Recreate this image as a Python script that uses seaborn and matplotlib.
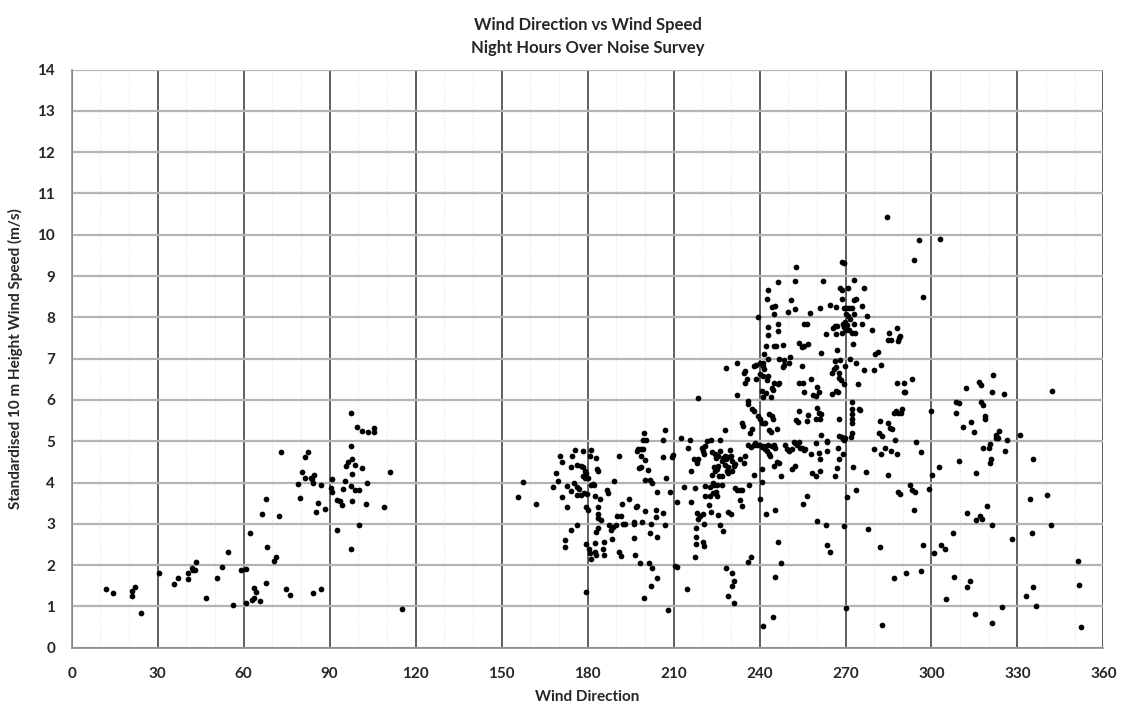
import pandas as pd
import matplotlib
matplotlib.use("Agg")
import matplotlib.pyplot as plt
import seaborn as sns
from matplotlib.ticker import MultipleLocator

# (wind direction deg, wind speed m/s), per sector
sector_000_095 = [
    (12.0, 1.41), (14.5, 1.32), (20.9, 1.37), (21.0, 1.26), (22.1, 1.46), (24.3, 0.84),
    (30.5, 1.80), (35.6, 1.55), (36.9, 1.69), (40.5, 1.82), (40.6, 1.66), (42.0, 1.92),
    (42.4, 1.87), (42.9, 1.87), (43.5, 2.07), (46.8, 1.21), (50.6, 1.69), (52.6, 1.95),
    (54.5, 2.32), (56.1, 1.03), (59.1, 1.87), (60.8, 1.91), (60.7, 1.09), (62.3, 2.77),
    (62.8, 1.15), (63.6, 1.21), (63.7, 1.44), (64.2, 1.35), (65.8, 1.14), (66.5, 3.23),
    (67.8, 1.57), (67.9, 3.59), (68.2, 2.43), (70.7, 2.09), (71.1, 2.20), (72.3, 3.19),
    (73.0, 4.73), (74.7, 1.42), (76.2, 1.27), (78.9, 3.96), (79.5, 3.63), (80.5, 4.25),
    (81.5, 4.61), (82.3, 4.73), (81.5, 4.11), (83.4, 4.11), (84.0, 4.08), (84.4, 4.18),
    (84.3, 4.00), (84.3, 1.32), (87.0, 1.42), (87.0, 3.93), (85.2, 3.29), (86.0, 3.50),
    (88.3, 3.37), (90.8, 4.09), (90.5, 3.86), (90.8, 3.78), (92.5, 2.85), (92.5, 3.57),
]

sector_095_120 = [
    (97.4, 5.68), (99.7, 5.34), (101.3, 5.25), (103.3, 5.22), (105.5, 5.31), (105.5, 5.22),
    (97.4, 4.89), (97.8, 4.57), (96.3, 4.50), (95.6, 4.40), (98.7, 4.42), (101.3, 4.36),
    (97.8, 4.21), (111.0, 4.26), (95.4, 4.03), (97.4, 3.91), (94.5, 3.85), (98.7, 3.81),
    (100.4, 3.83), (103.0, 3.98), (93.7, 3.56), (94.3, 3.46), (97.8, 3.56), (102.6, 3.48),
    (109.0, 3.40), (100.4, 2.97), (97.4, 2.40), (115.1, 0.94),
]

sector_150_218 = [
    (155.8, 3.66), (157.5, 4.02), (162.0, 3.47), (168.1, 3.89), (168.9, 4.22), (169.8, 4.04),
    (170.2, 4.65), (170.9, 4.49), (170.9, 3.66), (172.2, 2.62), (172.2, 2.45), (172.8, 3.41),
    (172.8, 3.92), (174.2, 2.84), (174.2, 4.37), (174.2, 3.79), (174.6, 4.65), (175.5, 4.79),
    (175.3, 3.98), (176.2, 3.88), (176.4, 4.42), (176.4, 3.70), (176.4, 2.96), (177.0, 3.85),
    (177.6, 4.40), (177.6, 3.70), (178.4, 4.77), (178.5, 4.37), (178.5, 4.15), (178.8, 3.75),
    (179.1, 4.29), (179.2, 4.12), (179.6, 4.22), (179.8, 3.72), (179.3, 3.41), (179.6, 2.50),
    (179.5, 1.34), (180.2, 4.11), (180.2, 3.34), (180.4, 2.39), (180.8, 2.29), (181.1, 3.94),
    (181.3, 2.16), (181.3, 4.79), (181.0, 4.64), (182.0, 3.96), (182.3, 3.95), (182.7, 2.31),
    (182.6, 3.68), (182.7, 2.54), (183.0, 2.25), (183.1, 4.60), (183.3, 4.33), (183.7, 4.29),
    (183.7, 3.41), (183.7, 3.25), (183.8, 3.15), (184.5, 3.60), (184.6, 3.09), (182.9, 2.81),
    (183.7, 2.90), (185.3, 2.39), (185.6, 2.55), (185.6, 2.24), (186.8, 3.83), (187.1, 3.74),
    (187.5, 2.96), (188.3, 2.84), (188.7, 2.92), (188.5, 2.63), (189.1, 4.03), (190.0, 2.97),
    (190.3, 3.18), (190.9, 4.65), (190.9, 2.32), (191.6, 2.23), (191.8, 3.20), (191.9, 3.49),
    (192.2, 3.00), (192.9, 3.00), (194.4, 3.60), (196.1, 3.05), (196.3, 3.00), (196.3, 2.65),
    (196.4, 2.25), (196.8, 3.40), (197.3, 3.43), (197.1, 4.76), (197.6, 4.81), (198.6, 4.81),
    (199.2, 4.81), (198.1, 4.36), (198.6, 4.37), (198.8, 4.64), (200.1, 4.54), (199.8, 5.19),
    (199.4, 5.03), (200.5, 5.03), (200.2, 4.06), (200.2, 3.30), (199.1, 3.05), (198.4, 2.05),
    (199.7, 1.21), (201.0, 4.31), (201.3, 2.05), (201.8, 4.06), (202.3, 3.99), (201.8, 2.79),
    (202.0, 3.00), (202.6, 1.94), (202.0, 1.50), (203.7, 3.33), (203.9, 3.17), (204.1, 2.68),
    (204.1, 1.70), (204.3, 3.77), (206.2, 4.62), (206.4, 5.03), (206.4, 3.26), (207.0, 5.27),
    (207.2, 4.11), (207.1, 2.97), (208.2, 0.91), (208.8, 3.78), (209.5, 4.62), (209.7, 4.67),
    (210.4, 1.99), (211.1, 1.95), (211.3, 3.54), (212.7, 5.08), (213.5, 3.88), (214.7, 1.43),
    (214.9, 4.83), (215.9, 5.03), (216.2, 4.29), (216.2, 3.54), (217.5, 3.87), (217.3, 4.56),
    (218.0, 3.26), (217.7, 2.90), (217.8, 2.68), (217.7, 2.50), (217.5, 2.19),
]

sector_218_288_low = [
    # 6 to 7 m/s
    (228.2, 6.77), (235.0, 6.70), (234.6, 6.65), (238.0, 6.83), (238.8, 6.84), (241.2, 6.83),
    (241.4, 6.74), (235.6, 6.50), (235.0, 6.40), (238.7, 6.50), (240.2, 6.62), (241.1, 6.58),
    (242.9, 6.58), (242.6, 6.49), (244.9, 6.40), (244.3, 6.30), (244.8, 6.24), (246.9, 6.42),
    (246.4, 6.38), (240.8, 6.22), (241.1, 6.08), (242.2, 6.16), (244.1, 6.06), (248.4, 6.84),
    (248.1, 6.79), (254.8, 6.81), (253.7, 6.40), (255.2, 6.40), (255.4, 6.20), (258.1, 6.50),
    (260.2, 6.32), (260.7, 6.20), (258.6, 6.11), (259.7, 6.10), (265.3, 6.15), (266.7, 6.22),
    (267.4, 6.20), (265.3, 6.66), (265.9, 6.76), (266.7, 6.79), (267.7, 6.65), (267.7, 6.52),
    (268.5, 6.48), (269.4, 6.38), (269.7, 6.83), (274.4, 6.39), (276.5, 6.73), (279.9, 6.73),
    (282.5, 6.84), (287.9, 6.42), (232.1, 6.13), (218.4, 6.05),
    # 5 to 6 m/s
    (235.8, 5.98), (236.1, 5.91), (237.3, 5.77), (237.9, 5.73), (239.6, 5.60), (240.2, 5.55),
    (240.8, 5.45), (241.4, 5.43), (242.0, 5.43), (233.8, 5.45), (234.4, 5.38), (243.4, 5.65),
    (244.3, 5.60), (244.7, 5.55), (246.1, 5.29), (243.4, 5.27), (244.1, 5.22), (237.3, 5.29),
    (236.7, 5.21), (228.0, 5.26), (253.7, 5.72), (252.7, 5.51), (253.4, 5.47), (256.9, 5.63),
    (256.6, 5.49), (260.1, 5.80), (260.7, 5.69), (261.4, 5.65), (259.8, 5.53), (261.1, 5.55),
    (267.7, 5.55), (272.1, 5.95), (272.3, 5.77), (274.7, 5.79), (275.2, 5.76), (272.1, 5.65),
    (272.3, 5.53), (272.3, 5.43), (272.1, 5.19), (271.9, 5.11), (267.7, 5.13), (268.6, 5.11),
    (269.1, 5.06), (269.3, 5.02), (269.8, 5.08), (261.4, 5.14), (263.6, 5.00), (282.0, 5.49),
    (281.7, 5.19), (282.8, 5.13), (284.9, 5.45), (285.4, 5.33), (286.3, 5.29), (286.9, 5.69),
    (287.5, 5.73), (287.3, 5.03),
    # 4 to 5 m/s
    (221.6, 5.00), (223.1, 5.02), (221.0, 4.88), (219.8, 4.84), (220.2, 4.76), (220.5, 4.68),
    (223.5, 4.74), (224.5, 4.70), (224.9, 4.60), (225.6, 4.64), (226.2, 5.02), (226.2, 4.76),
    (226.8, 4.52), (227.4, 4.60), (228.0, 4.64), (228.4, 4.56), (228.9, 4.62), (229.7, 4.79),
    (230.1, 4.64), (230.5, 4.52), (231.1, 4.41), (229.1, 4.38), (228.0, 4.43), (225.6, 4.40),
    (224.7, 4.36), (224.0, 4.38), (225.1, 4.32), (223.3, 4.18), (224.5, 4.29), (225.9, 4.15),
    (227.0, 4.15), (228.6, 4.29), (229.1, 4.23), (230.3, 4.28), (231.5, 4.44), (233.2, 4.56),
    (235.0, 4.64), (234.7, 4.48), (236.1, 4.90), (237.0, 4.87), (237.9, 4.90), (238.5, 4.96),
    (239.1, 4.92), (240.2, 4.92), (240.8, 4.87), (241.4, 4.88), (241.8, 4.80), (242.6, 4.76),
    (243.2, 4.68), (243.5, 4.64), (242.9, 4.90), (244.3, 4.88), (244.9, 4.90), (245.3, 4.84),
    (246.2, 4.50), (246.7, 4.48), (244.9, 4.41), (247.4, 4.15), (238.1, 4.19), (240.8, 4.33),
    (248.8, 4.90), (249.6, 4.80), (250.2, 4.76), (251.3, 4.80), (251.9, 4.98), (252.5, 4.96),
    (253.1, 4.92), (253.7, 4.98), (254.2, 4.84), (254.8, 4.84), (255.4, 4.79), (256.0, 4.82),
    (251.3, 4.33), (252.3, 4.41), (258.0, 4.70), (259.8, 4.95), (260.9, 4.72), (261.0, 4.57),
    (263.5, 4.98), (263.6, 4.76), (258.3, 4.23), (259.7, 4.17), (261.2, 4.27), (266.3, 4.17),
    (267.1, 4.34), (267.7, 4.58), (267.4, 4.84), (269.2, 4.70), (272.6, 4.37), (277.3, 4.26),
    (284.9, 4.19), (279.9, 4.80), (282.3, 4.68), (283.8, 4.84), (285.8, 4.76), (288.1, 4.70),
    (218.3, 4.48), (218.6, 4.56),
    # 3 to 4 m/s
    (221.0, 3.91), (222.7, 3.89), (223.7, 3.98), (224.2, 3.93), (225.1, 3.95), (223.9, 3.75),
    (224.8, 3.78), (226.8, 3.94), (221.0, 3.68), (222.4, 3.45), (222.7, 3.67), (223.1, 3.28),
    (225.1, 3.68), (225.4, 3.21), (229.1, 3.28), (230.0, 3.25), (231.5, 3.87), (232.3, 3.81),
    (233.2, 3.83), (234.0, 3.83), (233.2, 3.57), (234.0, 3.43), (236.4, 3.94), (240.1, 3.61),
    (240.8, 4.01), (242.2, 3.24), (245.5, 3.33), (255.1, 3.49), (256.6, 3.68), (270.6, 3.65),
    (273.5, 3.83), (218.6, 3.12), (219.2, 3.18), (220.2, 3.24), (220.7, 3.00),
    # below 3 m/s
    (220.2, 2.57), (220.7, 2.47), (226.2, 2.98), (227.4, 2.82), (246.4, 2.55), (247.6, 2.05),
    (236.1, 2.07), (237.1, 2.19), (260.1, 3.06), (263.2, 2.96), (263.5, 2.48), (264.7, 2.33),
    (269.4, 2.94), (277.8, 2.87), (282.0, 2.43), (228.2, 1.94), (230.3, 1.82), (231.1, 1.62),
    (230.5, 1.50), (229.1, 1.26), (231.2, 1.09), (245.5, 1.71), (286.9, 1.68), (270.0, 0.97),
    (241.1, 0.53), (244.8, 0.75), (282.8, 0.55),
]

sector_218_288_high = [
    (284.6, 10.42), (268.6, 9.33), (269.4, 9.31), (252.7, 9.22), (246.5, 8.86), (252.5, 8.87),
    (262.1, 8.88), (272.9, 8.91), (242.9, 8.65), (268.1, 8.70), (268.7, 8.65), (270.8, 8.72),
    (276.4, 8.70), (242.6, 8.45), (251.1, 8.42), (268.6, 8.45), (272.9, 8.42), (273.7, 8.45),
    (244.5, 8.26), (245.5, 8.28), (244.9, 8.08), (252.4, 8.19), (249.8, 8.13), (257.6, 8.11),
    (261.1, 8.23), (264.7, 8.29), (266.7, 8.26), (269.5, 8.22), (270.2, 8.22), (271.2, 8.23),
    (272.1, 8.22), (275.6, 8.27), (239.6, 8.00), (272.9, 8.08), (270.2, 8.08), (270.9, 8.02),
    (271.7, 7.96), (269.8, 7.89), (277.5, 8.02), (243.1, 7.77), (246.6, 7.85), (246.6, 7.67),
    (243.0, 7.56), (255.6, 7.85), (256.4, 7.84), (263.1, 7.59), (265.8, 7.73), (266.4, 7.79),
    (267.2, 7.79), (266.7, 7.59), (269.1, 7.84), (269.4, 7.77), (270.0, 7.69), (270.6, 7.81),
    (271.2, 7.69), (272.1, 7.61), (272.9, 7.84), (273.2, 7.63), (268.6, 7.61), (275.6, 7.84),
    (279.4, 7.70), (272.5, 7.36), (285.2, 7.61), (285.9, 7.45), (284.9, 7.45), (242.2, 7.30),
    (245.1, 7.30), (245.7, 7.30), (248.2, 7.32), (253.7, 7.37), (254.8, 7.27), (255.6, 7.31),
    (256.9, 7.35), (241.6, 7.12), (261.6, 7.14), (267.1, 7.20), (280.3, 7.12), (281.2, 7.16),
    (243.0, 6.99), (246.8, 7.00), (248.6, 6.97), (250.5, 7.03), (250.4, 6.89), (232.2, 6.90),
    (240.0, 6.90), (241.2, 6.89), (266.5, 6.94), (268.2, 6.96), (271.7, 7.00), (273.7, 6.90),
]

sector_288_360 = [
    (295.6, 9.86), (302.8, 9.90), (293.9, 9.38), (297.0, 8.49), (288.0, 7.75), (289.1, 7.55),
    (288.3, 7.43), (288.8, 7.50),
    (290.5, 6.42), (293.2, 6.50), (290.5, 6.20), (290.9, 6.18), (312.1, 6.30), (316.6, 6.44),
    (317.4, 6.37), (321.6, 6.60), (321.0, 6.19), (325.3, 6.15), (342.0, 6.21), (308.4, 5.94),
    (309.6, 5.92), (317.2, 5.95), (318.1, 5.87), (308.4, 5.68), (299.9, 5.72), (289.7, 5.77),
    (289.5, 5.69), (288.3, 5.69), (318.7, 5.61), (318.7, 5.53), (313.9, 5.47), (311.0, 5.35),
    (314.8, 5.22), (322.4, 5.14), (323.6, 5.25), (322.6, 5.09), (323.2, 5.07), (326.5, 5.02),
    (331.0, 5.14), (294.6, 4.97), (296.3, 4.74), (320.3, 4.94), (320.1, 4.83), (318.1, 4.83),
    (325.7, 4.76), (320.8, 4.58), (320.4, 4.47), (335.4, 4.58), (309.6, 4.51), (302.5, 4.37),
    (315.5, 4.23), (300.2, 4.19), (292.6, 3.95), (293.2, 3.81), (294.2, 3.77), (288.3, 3.77),
    (289.0, 3.72), (299.0, 3.85), (334.3, 3.60), (340.3, 3.70), (319.5, 3.43), (293.9, 3.34),
    (312.3, 3.26), (317.0, 3.20), (317.5, 3.12), (315.5, 3.09), (321.0, 2.96), (307.6, 2.77),
    (335.0, 2.79), (341.7, 2.97), (328.2, 2.63), (297.0, 2.48), (303.2, 2.49), (304.8, 2.40),
    (300.7, 2.30), (351.1, 2.09), (291.0, 1.82), (296.3, 1.85), (307.9, 1.72), (313.3, 1.62),
    (312.3, 1.48), (335.4, 1.48), (351.3, 1.52), (333.0, 1.26), (304.9, 1.17), (324.6, 0.98),
    (336.6, 1.00), (315.2, 0.82), (321.0, 0.59), (352.0, 0.51),
]

title = "Wind Direction vs Wind Speed\nNight Hours Over Noise Survey"
x_label = "Wind Direction"
y_label = "Standardised 10 m Height Wind Speed (m/s)"

points = (sector_000_095 + sector_095_120 + sector_150_218
          + sector_218_288_low + sector_218_288_high + sector_288_360)
df = pd.DataFrame(points, columns=["direction", "speed"])

sns.set_style("white")
plt.rcParams["font.family"] = ["Lato", "DejaVu Sans"]

fig = plt.figure(figsize=(11.3, 7.1), dpi=100)
ax = fig.add_axes([0.0635, 0.0877, 0.913, 0.8144])

sns.scatterplot(data=df, x="direction", y="speed", color="black", s=17,
                linewidth=0, ax=ax, zorder=3)

ax.set_xlim(0, 360)
ax.set_ylim(0, 14)
ax.set_xticks(range(0, 361, 30))
ax.set_yticks(range(0, 15))
ax.xaxis.set_minor_locator(MultipleLocator(10))

ax.grid(axis="y", which="major", color="#b4b4b4", lw=1.6)
ax.grid(axis="x", which="major", color="#333333", lw=1.1)
ax.grid(axis="x", which="minor", color="#e2e2e2", lw=0.8, ls=":")
ax.set_axisbelow(True)

for side in ["top", "right"]:
    ax.spines[side].set_visible(False)
for side in ["left", "bottom"]:
    ax.spines[side].set_color("#8c8c8c")
    ax.spines[side].set_linewidth(1.2)

ax.tick_params(axis="x", which="both", direction="out", length=4, color="#8c8c8c",
               width=1, pad=10, labelsize=11)
ax.tick_params(axis="y", which="major", direction="out", length=6, color="#8c8c8c",
               width=1, pad=6, labelsize=11)
for lbl in ax.get_xticklabels() + ax.get_yticklabels():
    lbl.set_fontweight("bold")

ax.set_xlabel(x_label, fontweight="bold", fontsize=11, labelpad=6)
ax.set_ylabel(y_label, fontweight="bold", fontsize=11, labelpad=10)
ax.set_title(title, fontweight="bold", fontsize=12, pad=12, linespacing=1.5)

fig.savefig("out.png", dpi=100)
